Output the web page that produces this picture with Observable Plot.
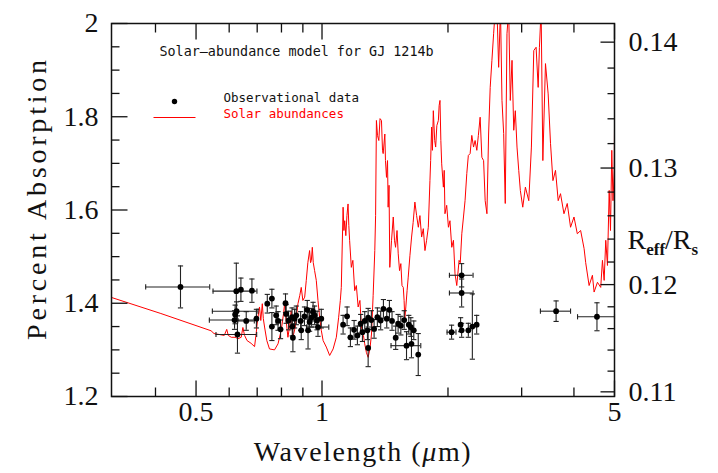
<!DOCTYPE html>
<html><head><meta charset="utf-8">
<script src="https://cdn.jsdelivr.net/npm/d3@7"></script>
<script src="https://cdn.jsdelivr.net/npm/@observablehq/plot@0.6"></script>
<style>body{margin:0;background:#fff}</style>
</head><body><div id="chart"></div>
<script>
// ---- Model spectrum (solar abundances), wavelength in micron, percent absorption
const modelWl = [0.315,0.412,0.543,0.552,0.568,0.584,0.592,0.597,0.607,0.620,
0.630,0.641,0.647,0.653,0.662,0.677,0.690,0.696,0.702,0.709,
0.714,0.720,0.724,0.729,0.738,0.749,0.770,0.785,0.799,0.809,
0.814,0.821,0.829,0.837,0.844,0.852,0.863,0.876,0.885,0.892,
0.900,0.909,0.917,0.925,0.934,0.939,0.943,0.948,0.953,0.960,
0.969,0.978,0.987,0.996,1.006,1.024,1.043,1.063,1.082,1.096,
1.106,1.112,1.123,1.128,1.133,1.140,1.147,1.154,1.159,1.164,
1.175,1.185,1.197,1.208,1.220,1.232,1.242,1.256,1.265,1.277,
1.289,1.302,1.313,1.325,1.337,1.343,1.349,1.357,1.367,1.376,
1.387,1.395,1.400,1.413,1.418,1.426,1.434,1.439,1.446,1.452,
1.466,1.480,1.490,1.499,1.511,1.521,1.532,1.543,1.553,1.564,
1.571,1.577,1.586,1.597,1.607,1.622,1.637,1.651,1.667,1.683,
1.699,1.714,1.730,1.746,1.762,1.778,1.795,1.811,1.818,1.828,
1.836,1.845,1.859,1.869,1.881,1.897,1.905,1.914,1.923,1.932,
1.950,1.959,1.967,1.986,2.005,2.022,2.042,2.061,2.079,2.099,
2.110,2.126,2.140,2.158,2.178,2.197,2.218,2.237,2.259,2.280,
2.302,2.322,2.344,2.364,2.387,2.410,2.433,2.454,2.478,2.501,
2.523,2.547,2.571,2.590,2.619,2.643,2.670,2.692,2.717,2.741,
2.767,2.793,2.818,2.845,2.872,2.897,2.924,2.952,2.978,3.018,
3.062,3.120,3.165,3.207,3.248,3.285,3.308,3.339,3.371,3.420,
3.471,3.516,3.563,3.614,3.668,3.715,3.786,3.855,3.926,4.001,
4.075,4.150,4.230,4.267,4.348,4.428,4.469,4.552,4.635,4.679,
4.723,4.765,4.810,4.856,4.891,4.926,4.959,4.992,5.0];
const modelPct = [1.412,1.378,1.341,1.335,1.333,1.331,1.344,1.331,1.327,1.327,
1.324,1.327,1.348,1.331,1.320,1.314,1.307,1.335,1.367,1.392,
1.363,1.399,1.367,1.349,1.320,1.302,1.300,1.313,1.342,1.377,
1.399,1.363,1.327,1.352,1.384,1.327,1.349,1.399,1.417,1.434,
1.406,1.413,1.449,1.487,1.513,1.487,1.492,1.520,1.487,1.470,
1.449,1.406,1.370,1.342,1.320,1.306,1.288,1.302,1.327,1.370,
1.406,1.434,1.606,1.556,1.577,1.545,1.588,1.613,1.567,1.535,
1.477,1.492,1.427,1.438,1.392,1.406,1.349,1.331,1.313,1.294,
1.284,1.303,1.334,1.417,1.513,1.588,1.792,1.760,1.749,1.796,
1.792,1.728,1.721,1.763,1.706,1.670,1.706,1.606,1.653,1.477,
1.535,1.585,1.535,1.520,1.556,1.506,1.470,1.485,1.438,1.434,
1.406,1.367,1.392,1.427,1.456,1.502,1.542,1.573,1.617,1.588,
1.563,1.588,1.542,1.560,1.513,1.535,1.563,1.663,1.706,1.778,
1.728,1.813,1.749,1.735,1.781,1.792,1.824,1.835,1.749,1.699,
1.649,1.685,1.592,1.610,1.563,1.577,1.520,1.535,1.463,1.438,
1.460,1.492,1.487,1.549,1.585,1.620,1.678,1.717,1.721,1.760,
1.735,1.749,1.728,1.760,1.799,1.713,1.706,1.620,1.592,1.763,
1.863,1.921,1.978,2.02,2.03,1.906,2.03,1.835,1.764,1.614,
1.978,2.03,1.835,1.921,1.771,1.813,1.735,1.685,1.642,1.606,
1.649,1.620,1.735,1.942,1.949,1.863,1.949,2.03,1.706,1.914,
1.849,1.743,1.663,1.685,1.620,1.635,1.592,1.614,1.563,1.585,
1.549,1.556,1.517,1.487,1.438,1.460,1.424,1.445,1.434,1.492,
1.449,1.535,1.481,1.642,1.556,1.728,1.620,1.685,1.775];

// ---- Observational data
const obsWl = [0.459,0.624,0.640,0.680,0.625,0.620,0.618,0.628,0.659,0.697,
0.740,0.759,0.759,0.777,0.785,0.796,0.818,0.821,0.832,0.848,
0.849,0.852,0.860,0.868,0.889,0.892,0.908,0.922,0.926,0.934,
0.943,0.952,0.960,0.973,0.978,0.996,1.123,1.148,1.169,1.193,
1.215,1.237,1.249,1.265,1.284,1.289,1.289,1.312,1.332,1.356,
1.381,1.402,1.428,1.449,1.470,1.500,1.520,1.543,1.572,1.592,
1.612,1.630,1.636,1.657,1.698,2.040,2.144,2.156,2.156,2.156,
2.237,2.287,2.342,3.626,4.540];
const obsPct = [1.435,1.426,1.429,1.427,1.383,1.376,1.364,1.333,1.362,1.367,
1.399,1.410,1.350,1.374,1.362,1.344,1.400,1.377,1.363,1.370,
1.350,1.326,1.367,1.374,1.362,1.342,1.372,1.386,1.342,1.360,
1.369,1.382,1.374,1.363,1.349,1.367,1.354,1.372,1.327,1.343,
1.331,1.356,1.338,1.362,1.342,1.369,1.304,1.364,1.345,1.370,
1.363,1.388,1.367,1.386,1.362,1.326,1.356,1.352,1.364,1.309,
1.354,1.349,1.313,1.342,1.290,1.338,1.354,1.342,1.422,1.460,
1.342,1.350,1.354,1.383,1.371];
const obsYerr = [0.045,0.06,0.025,0.025,0.02,0.02,0.02,0.04,0.02,0.02,
0.02,0.02,0.03,0.02,0.02,0.02,0.02,0.02,0.02,0.02,
0.02,0.03,0.02,0.02,0.02,0.02,0.02,0.02,0.04,0.02,
0.02,0.02,0.02,0.02,0.02,0.02,0.02,0.02,0.02,0.02,
0.02,0.02,0.02,0.02,0.02,0.02,0.04,0.02,0.02,0.02,
0.02,0.02,0.02,0.02,0.02,0.025,0.02,0.02,0.02,0.03,
0.02,0.02,0.03,0.02,0.045,0.015,0.015,0.015,0.03,0.025,
0.015,0.07,0.02,0.022,0.03];
const obsXerr = [0.08,0.075,0,0,0.078,0,0.08,0.07,0.03,0,
0,0,0,0,0,0,0,0,0,0,
0,0,0,0,0,0,0,0,0,0,
0,0,0,0,0.06,0,0,0,0,0,
0,0,0,0,0,0,0,0,0,0,
0,0,0,0,0,0,0,0,0,0.13,
0,0,0,0,0,0.05,0,0,0.14,0.14,
0,0,0,0.30,0.46];

// ---- Axes ticks & labels
const xTicksMajor = [0.5, 1, 5];
const xTickLabels = ["0.5", "1", "5"];
const xTicksMinor = [0.4, 0.6, 0.7, 0.8, 0.9, 2, 3, 4];
const yTicksMajor = [1.2, 1.4, 1.6, 1.8, 2.0];
const yTickLabels = ["1.2", "1.4", "1.6", "1.8", "2"];
const yTicksMinor = [1.25, 1.3, 1.35, 1.45, 1.5, 1.55, 1.65, 1.7, 1.75, 1.85, 1.9, 1.95];
const rTicksMajor = [0.11, 0.12, 0.13, 0.14];
const rTickLabels = ["0.11", "0.12", "0.13", "0.14"];
const rTicksMinor = [0.112,0.114,0.116,0.118,0.122,0.124,0.126,0.128,0.132,0.134,0.136,0.138];

const titleText = "Solar\u2013abundance model for GJ 1214b";
const legendObs = "Observational data";
const legendModel = "Solar abundances";
const xLabel = "Wavelength (\u03bcm)";
const yLabel = "Percent Absorption";
const rLabel = "Reff/Rs";

// ---- build tables
const model = modelWl.map((w, i) => ({w, p: modelPct[i]}));
const obs = obsWl.map((w, i) => ({w, p: obsPct[i], ey: obsYerr[i], ex: obsXerr[i]}));
const obsX = obs.filter(d => d.ex > 0);
const toPct = r => r * r * 100;

const seg = (ax, ay, bx, by) => ({draw(ctx, size) { const r = Math.sqrt(size / Math.PI); ctx.moveTo(ax * r, ay * r); ctx.lineTo(bx * r, by * r); }});
const hCap = seg(-1, 0, 1, 0), vCap = seg(0, -1, 0, 1);
const tRight = seg(0, 0, 1, 0), tLeft = seg(0, 0, -1, 0), tUp = seg(0, 0, 0, -1), tDown = seg(0, 0, 0, 1);

const serif = "'Liberation Serif', 'DejaVu Serif', serif";
const mono = "'DejaVu Sans Mono', monospace";
const ink = "#111";

const tickDot = (data, opts) => Plot.dot(data, {fill: "none", stroke: ink, strokeWidth: 1.3, ...opts});

const chart = Plot.plot({
  width: 718, height: 473,
  marginLeft: 111, marginRight: 104, marginTop: 23, marginBottom: 77,
  style: {background: "white", fontFamily: serif, fontSize: "28px"},
  x: {type: "log", domain: [0.314, 5.0], axis: null},
  y: {domain: [1.2, 2.0], axis: null},
  marks: [
    // model
    Plot.line(model, {x: "w", y: "p", stroke: "#ff0000", strokeWidth: 1, clip: true}),
    // x error bars
    Plot.ruleY(obsX, {y: "p", x1: d => d.w - d.ex, x2: d => Math.min(5, d.w + d.ex), stroke: "#222", strokeWidth: 1.1}),
    Plot.dot(obsX, {x: d => d.w - d.ex, y: "p", symbol: vCap, r: 2.6, fill: "none", stroke: "#222", strokeWidth: 1.1}),
    Plot.dot(obsX, {x: d => Math.min(5, d.w + d.ex), y: "p", symbol: vCap, r: 2.6, fill: "none", stroke: "#222", strokeWidth: 1.1}),
    // y error bars
    Plot.ruleX(obs, {x: "w", y1: d => d.p - d.ey, y2: d => d.p + d.ey, stroke: "#222", strokeWidth: 1.1}),
    Plot.dot(obs, {x: "w", y: d => d.p - d.ey, symbol: hCap, r: 2.6, fill: "none", stroke: "#222", strokeWidth: 1.1}),
    Plot.dot(obs, {x: "w", y: d => d.p + d.ey, symbol: hCap, r: 2.6, fill: "none", stroke: "#222", strokeWidth: 1.1}),
    Plot.dot(obs, {x: "w", y: "p", r: 2.9, fill: "black", stroke: "none"}),
    // frame
    Plot.frame({stroke: ink, strokeWidth: 1.5}),
    // inward ticks
    tickDot(yTicksMajor, {y: d => d, frameAnchor: "left", symbol: tRight, r: 16}),
    tickDot(yTicksMinor, {y: d => d, frameAnchor: "left", symbol: tRight, r: 8}),
    tickDot(rTicksMajor, {y: toPct, frameAnchor: "right", symbol: tLeft, r: 14}),
    tickDot(rTicksMinor, {y: toPct, frameAnchor: "right", symbol: tLeft, r: 7}),
    tickDot(xTicksMajor, {x: d => d, frameAnchor: "bottom", symbol: tUp, r: 16}),
    tickDot(xTicksMinor, {x: d => d, frameAnchor: "bottom", symbol: tUp, r: 9}),
    tickDot(xTicksMajor, {x: d => d, frameAnchor: "top", symbol: tDown, r: 16}),
    tickDot(xTicksMinor, {x: d => d, frameAnchor: "top", symbol: tDown, r: 9}),
    // tick labels
    Plot.axisX(xTicksMajor, {anchor: "bottom", tickSize: 0, tickPadding: 5, label: null,
      tickFormat: d => xTickLabels[xTicksMajor.indexOf(d)], fontSize: 28, fontFamily: serif, fill: ink}),
    Plot.axisY(yTicksMajor, {anchor: "left", tickSize: 0, tickPadding: 13, label: null,
      tickFormat: d => yTickLabels[yTicksMajor.indexOf(d)], fontSize: 28, fontFamily: serif, fill: ink}),
    Plot.axisY(rTicksMajor.map(toPct), {anchor: "right", tickSize: 0, tickPadding: 14, label: null,
      tickFormat: (d, i) => rTickLabels[i], fontSize: 28, fontFamily: serif, fill: ink}),
    // axis titles
    Plot.text([yLabel], {text: d => d, frameAnchor: "left", rotate: -90, dx: -74, dy: -12,
      fontSize: 28, fontFamily: serif, fill: ink, textAnchor: "middle", lineAnchor: "middle"}),
    Plot.text([xLabel], {text: d => d, frameAnchor: "bottom", dy: 56,
      fontSize: 28, fontFamily: serif, fill: ink, textAnchor: "middle", lineAnchor: "middle"}),
    Plot.text([rLabel], {text: d => d, frameAnchor: "right", dx: 13, dy: 30,
      fontSize: 28, fontFamily: serif, fill: ink, textAnchor: "start", lineAnchor: "middle"}),
    // in-plot title and legend
    Plot.text([titleText], {text: d => d, frameAnchor: "top-left", dx: 48, dy: 28,
      fontSize: 13.4, fontFamily: mono, fill: ink, textAnchor: "start", lineAnchor: "middle"}),
    Plot.dot([legendObs], {frameAnchor: "top-left", dx: 63, dy: 78, r: 2.7, fill: "black"}),
    Plot.text([legendObs], {text: d => d, frameAnchor: "top-left", dx: 112, dy: 74.5,
      fontSize: 12.5, fontFamily: mono, fill: ink, textAnchor: "start", lineAnchor: "middle"}),
    Plot.dot([legendModel], {frameAnchor: "top-left", dx: 63, dy: 94, symbol: hCap, r: 21, fill: "none", stroke: "#ff0000", strokeWidth: 1}),
    Plot.text([legendModel], {text: d => d, frameAnchor: "top-left", dx: 112, dy: 90,
      fontSize: 12.5, fontFamily: mono, fill: "#ff0000", textAnchor: "start", lineAnchor: "middle"})
  ]
});

// rich text: italic mu, subscripts, letter spacing of the axis titles
const svg = d3.select(chart);
svg.selectAll("text").filter(function() { return this.textContent === yLabel; })
  .attr("letter-spacing", "3.8px");
svg.selectAll("text").filter(function() { return this.textContent === xLabel; }).each(function() {
  const t = d3.select(this); t.text("").attr("letter-spacing", "1.6px");
  t.append("tspan").text("Wavelength (");
  t.append("tspan").attr("font-style", "italic").text("\u03bc");
  t.append("tspan").text("m)");
});
svg.selectAll("text").filter(function() { return this.textContent === rLabel; }).each(function() {
  const t = d3.select(this); t.text("");
  t.append("tspan").text("R");
  t.append("tspan").attr("font-size", 17).attr("font-weight", "bold").attr("dy", 6).text("eff");
  t.append("tspan").attr("dy", -6).text("/R");
  t.append("tspan").attr("font-size", 17).attr("font-weight", "bold").attr("dy", 6).text("s");
});
document.getElementById("chart").appendChild(chart);
</script>
</body></html>
